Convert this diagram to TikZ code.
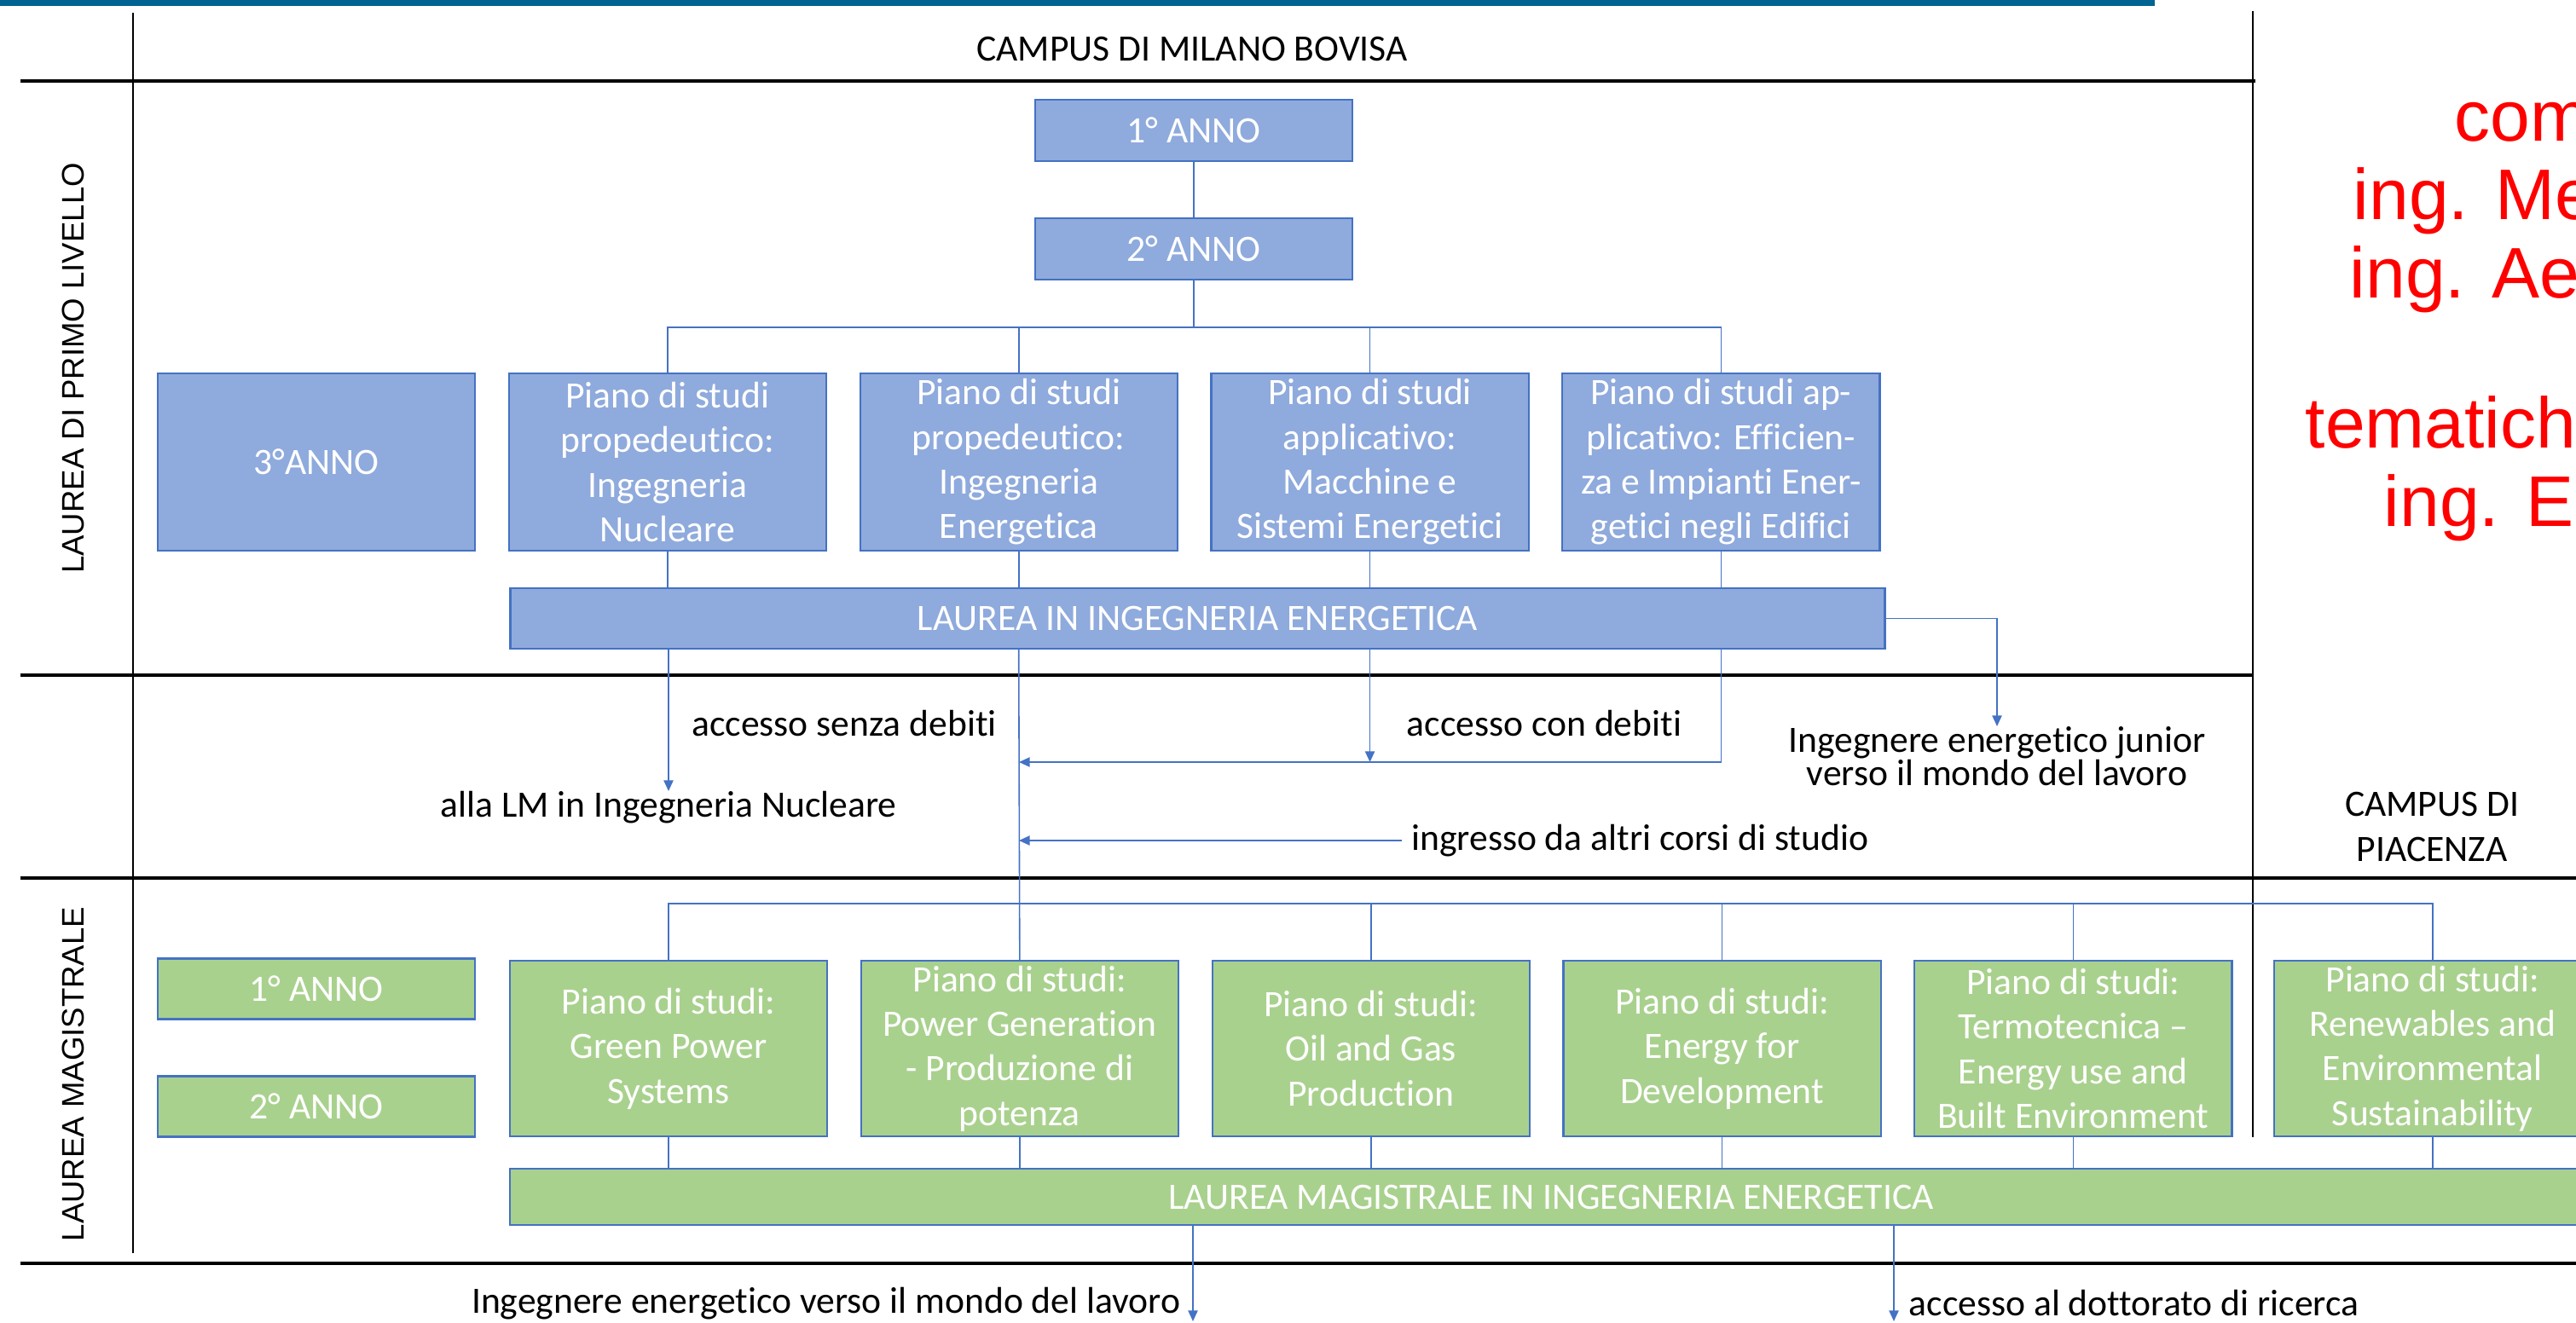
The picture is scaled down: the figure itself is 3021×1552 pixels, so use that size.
\documentclass[tikz,border=0pt]{standalone}
\usepackage{fontspec}
\setmainfont{Carlito}[Ligatures=NoCommon]
\newfontfamily\arialfont{Liberation Sans}
\usetikzlibrary{arrows.meta,positioning,calc}

\definecolor{polibar}{RGB}{0,99,145}
\definecolor{bluefill}{RGB}{143,170,220}
\definecolor{greenfill}{RGB}{169,209,142}
\definecolor{edgeblue}{RGB}{68,114,196}

\newcommand{\boxfont}{\fontsize{12.4pt}{14.9pt}\selectfont}

\begin{document}
\begin{tikzpicture}[
    x=0.01cm, y=-0.01cm,
    box/.style={rectangle, draw=edgeblue, line width=0.6pt, text=white, font=\boxfont, align=center, inner sep=0pt, minimum width=3.72cm},
    blubox/.style={box, fill=bluefill},
    grnbox/.style={box, fill=greenfill},
    txt/.style={font=\boxfont, align=center, inner sep=0pt},
    side/.style={font=\arialfont\fontsize{10.4pt}{12pt}\selectfont, rotate=90, inner sep=0pt},
    redtxt/.style={font=\arialfont\fontsize{23.9pt}{26pt}\selectfont, text=red, inner sep=0pt, anchor=base west},
    conn/.style={draw=edgeblue, line width=0.45pt},
    arrow/.style={conn, -{Triangle[length=3.6pt,width=3.2pt]}},
    divider/.style={line width=0.9pt}
]
\useasboundingbox (0,0) rectangle (3021,1552);
\fill[polibar] (0,0) rectangle (2527,7);

% grid of the table
\draw[divider] (24,95) -- (2645,95);
\draw[divider] (24,792) -- (2642,792);
\draw[divider] (24,1030) -- (3021,1030);
\draw[divider] (24,1482) -- (3021,1482);
\draw[line width=0.6pt] (156,15) -- (156,1470);
\draw[line width=0.6pt] (2642,13) -- (2642,1334);

% headings
\node[txt] (bovisa) at (1398,58) {CAMPUS DI MILANO BOVISA};
\node[txt] (piacenza) at (2852,970) {CAMPUS DI\\PIACENZA};
\node[side] (primo) at (86,432) {LAUREA DI PRIMO LIVELLO};
\node[side] (magis) at (86,1260) {LAUREA MAGISTRALE};

% laurea di primo livello
\node[blubox, minimum height=0.72cm] (anno1) at (1400,153) {1° ANNO};
\node[blubox, minimum height=0.72cm] (anno2) at (1400,292) {2° ANNO};
\node[blubox, minimum height=2.08cm] (terzo) at (371,542) {3°ANNO};
\node[blubox, minimum height=2.08cm, right=0.375cm of terzo] (pNuc) {Piano di studi\\propedeutico:\\Ingegneria\\Nucleare};
\node[blubox, minimum height=2.08cm, right=0.375cm of pNuc] (pEne) {Piano di studi\\propedeutico:\\Ingegneria\\Energetica};
\node[blubox, minimum height=2.08cm, right=0.375cm of pEne] (pMac) {Piano di studi\\applicativo:\\Macchine e\\Sistemi Energetici};
\node[blubox, minimum height=2.08cm, right=0.375cm of pMac] (pEff) {Piano di studi ap-\\plicativo: Efficien-\\za e Impianti Ener-\\getici negli Edifici};
\node[blubox, minimum width=16.11cm, minimum height=0.71cm] (lie) at (1404.5,725.5) {LAUREA IN INGEGNERIA ENERGETICA};

\node[txt, anchor=north] (allaLM) at (784,928) {alla LM in Ingegneria Nucleare};
\node[txt] (senza) at (990,849) {accesso senza debiti};
\node[txt] (condeb) at (1811,849) {accesso con debiti};
\node[txt, anchor=west, inner xsep=3pt] (ingresso) at (1644,986) {ingresso da altri corsi di studio};
\node[txt, anchor=north, font=\fontsize{12.4pt}{11.1pt}\selectfont] (junior) at (2342,852) {Ingegnere energetico junior\\verso il mondo del lavoro};

% laurea magistrale
\node[grnbox, minimum height=0.71cm] (mag1) at (371,1160) {1° ANNO};
\node[grnbox, minimum height=0.71cm] (mag2) at (371,1298) {2° ANNO};
\node[grnbox, minimum height=2.06cm] (gGreen) at (784,1230) {Piano di studi:\\Green Power\\Systems};
\node[grnbox, minimum height=2.06cm, right=0.375cm of gGreen] (gPower) {Piano di studi:\\Power Generation\\- Produzione di\\potenza};
\node[grnbox, minimum height=2.06cm, right=0.375cm of gPower] (gOil) {Piano di studi:\\Oil and Gas\\Production};
\node[grnbox, minimum height=2.06cm, right=0.375cm of gOil] (gDev) {Piano di studi:\\Energy for\\Development};
\node[grnbox, minimum height=2.06cm, right=0.375cm of gDev] (gTermo) {Piano di studi:\\Termotecnica –\\Energy use and\\Built Environment};
\node[grnbox, minimum height=2.06cm, right=0.47cm of gTermo] (gRen) {Piano di studi:\\Renewables and\\Environmental\\Sustainability};
\node[grnbox, minimum width=24.40cm, minimum height=0.66cm] (lm) at (1819,1404) {LAUREA MAGISTRALE IN INGEGNERIA ENERGETICA};

\node[txt, anchor=east] (lavoro) at (1385,1529) {Ingegnere energetico verso il mondo del lavoro};
\node[txt, anchor=west] (dottorato) at (2238,1529) {accesso al dottorato di ricerca};

% red notes
\node[redtxt] (n1) at (2878,166) {com};
\node[redtxt] (n2) at (2759,258) {ing. Me};
\node[redtxt] (n3) at (2755,350) {ing. Aer};
\node[redtxt] (n4) at (2703,525) {tematich};
\node[redtxt] (n5) at (2795,617) {ing. En};

% connectors, primo livello
\coordinate (fork) at (1400,384);
\coordinate (joinA) at (1195,894);
\coordinate (joinB) at (1195,986);
\draw[conn] (anno1) -- (anno2);
\draw[conn] (anno2) -- (fork);
\draw[conn] (pNuc.north) |- (fork) -| (pEff.north);
\draw[conn] (fork -| pEne) -- (pEne.north);
\draw[conn] (fork -| pMac) -- (pMac.north);
\foreach \b in {pNuc,pEne,pMac,pEff}
    \draw[conn] (\b.south) -- (\b.south |- lie.north);
\draw[arrow] (lie.south -| allaLM.north) -- (allaLM.north);
\draw[arrow] (lie.south -| pEff) |- (joinA);
\draw[arrow] (lie.south -| pMac) -- (pMac |- joinA);
\draw[arrow] (ingresso.west) -- (joinB);
\draw[arrow] (lie.east) -| (junior.north);
\draw[conn] (lie.south -| pEne) -- (gPower.north);

% connectors, magistrale
\coordinate (fork2) at (1195,1060);
\draw[conn] (gGreen.north) |- (fork2) -| (gRen.north);
\foreach \b in {gOil,gDev,gTermo}
    \draw[conn] (fork2 -| \b) -- (\b.north);
\foreach \b in {gGreen,gPower,gOil,gDev,gTermo,gRen}
    \draw[conn] (\b.south) -- (\b.south |- lm.north);
\coordinate (outL) at (1399,1550);
\coordinate (outR) at (2221,1550);
\draw[arrow] (lm.south -| outL) -- (outL);
\draw[arrow] (lm.south -| outR) -- (outR);
\end{tikzpicture}
\end{document}
